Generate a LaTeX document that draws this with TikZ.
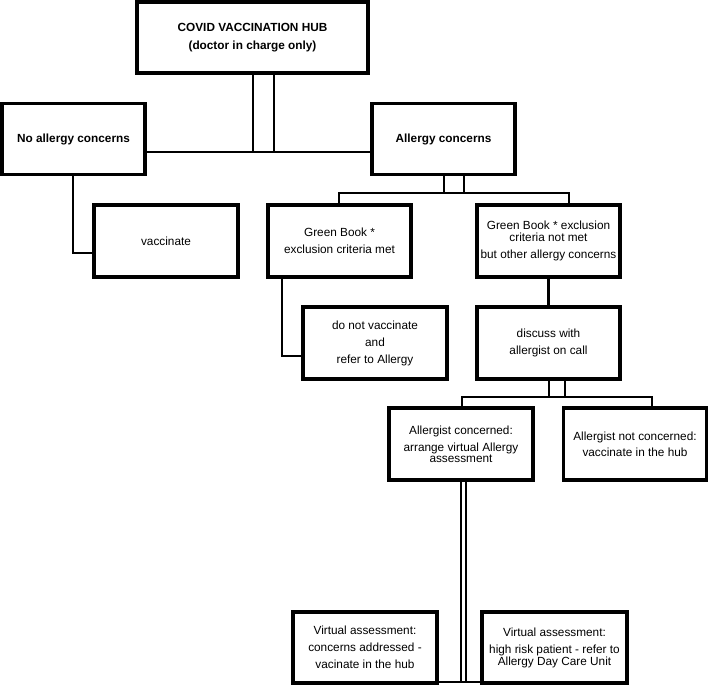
\documentclass[tikz,border=0pt]{standalone}
\usepackage{fontspec}
\setmainfont{Liberation Sans}
\begin{document}
\begin{tikzpicture}[x=1pt,y=-1pt,
  box/.style={draw=black, line width=3.2pt, inner sep=0pt, align=center,
    font=\fontsize{11.8}{17}\selectfont, minimum height=71, minimum width=143},
  conn/.style={draw=black, line width=2.8pt},
  thin/.style={draw=black, line width=2.2pt}]
\useasboundingbox (0,0) rectangle (709,685);
% boxes
\node[box, minimum width=231] (top) at (252.5,37.5) {\textbf{COVID VACCINATION HUB}\\[1pt]\textbf{(doctor in charge only)}};
\node[box] (noal) at (73.5,139) {\textbf{No allergy concerns}};
\node[box] (alc) at (443.5,139) {\textbf{Allergy concerns}};
\node[box, minimum height=72, minimum width=144] (vac) at (166,241) {vaccinate};
\node[box, minimum height=72] (gbm) at (339.5,241) {Green Book *\\exclusion criteria met};
\node[box, minimum height=72] (gbn) at (548.5,241) {Green Book * exclusion\\[-5pt]criteria not met\\but other allergy concerns};
\node[box, minimum height=72, minimum width=144] (dnv) at (375,343) {do not vaccinate\\and\\refer to Allergy};
\node[box, minimum height=72] (dis) at (548.5,343) {discuss with\\allergist on call};
\node[box, minimum height=72, minimum width=144] (acon) at (461,444) {Allergist concerned:\\arrange virtual Allergy\\[-6pt]assessment};
\node[box, minimum height=72] (anot) at (635,444) {Allergist not concerned:\\[-1pt]vaccinate in the hub};
\node[box, minimum width=144] (vl) at (365,647.5) {Virtual assessment:\\concerns addressed -\\vacinate in the hub};
\node[box, minimum width=145] (vr) at (554.5,647.5) {Virtual assessment:\\high risk patient - refer to\\[-5pt]Allergy Day Care Unit};
% junction coordinates
\coordinate (j1a) at (253,152);
\coordinate (j1b) at (274,152);
\coordinate (j2a) at (444,193);
\coordinate (j2b) at (464,193);
\coordinate (j2l) at (339,193);
\coordinate (j2r) at (569,193);
\coordinate (c1) at (73,253);
\coordinate (c2) at (282,356);
\coordinate (j3a) at (549,397);
\coordinate (j3b) at (565,397);
\coordinate (j3l) at (462,397);
\coordinate (j3r) at (652,397);
\coordinate (j4a) at (461,682);
\coordinate (j4b) at (466,682);
% connectors
\draw[conn] (top.south -| j1a) -- (j1a);
\draw[conn] (top.south -| j1b) -- (j1b);
\draw[conn] (noal.east |- j1a) -- (alc.west |- j1a);
\draw[conn] (alc.south -| j2a) -- (j2a);
\draw[conn] (alc.south -| j2b) -- (j2b);
\draw[conn] (gbm.north -| j2l) -- (j2l) -- (j2r) -- (gbn.north -| j2r);
\draw[conn] (noal.south -| c1) -- (c1) -- (vac.west |- c1);
\draw[conn] (gbm.south -| c2) -- (c2) -- (dnv.west |- c2);
\draw[conn] (gbn.south) -- (dis.north);
\draw[conn] (dis.south -| j3a) -- (j3a);
\draw[conn] (dis.south -| j3b) -- (j3b);
\draw[conn] (acon.north -| j3l) -- (j3l) -- (j3r) -- (anot.north -| j3r);
\draw[thin] (acon.south -| j4a) -- (j4a);
\draw[thin] (acon.south -| j4b) -- (j4b);
\draw[conn] (vl.east |- j4a) -- (vr.west |- j4a);
\end{tikzpicture}
\end{document}
